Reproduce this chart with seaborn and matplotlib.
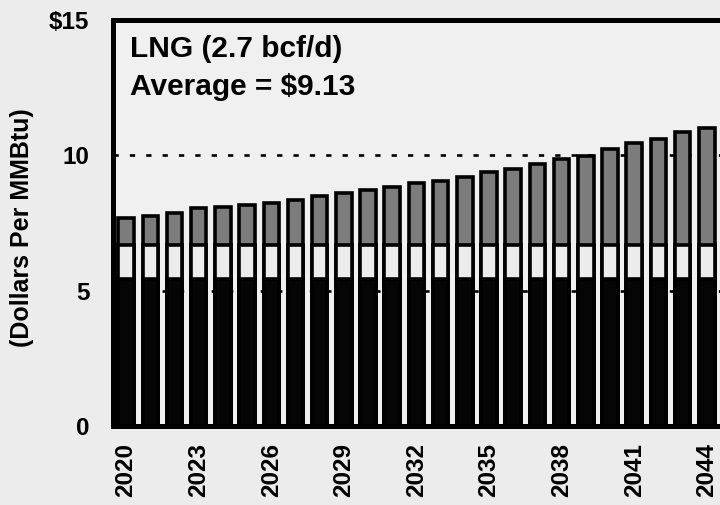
import matplotlib
matplotlib.use("Agg")
import matplotlib.pyplot as plt
import seaborn as sns
import pandas as pd

# Annual LNG cost build-up, dollars per MMBtu
years = [str(y) for y in range(2020, 2045)]
commodity = [5.42] * 25                      # black base segment
processing = [1.25] * 25                     # light middle segment
total_cost = [7.68, 7.75, 7.86, 8.04, 8.08, 8.15, 8.23, 8.34, 8.49, 8.60,
              8.71, 8.82, 8.97, 9.04, 9.19, 9.38, 9.49, 9.68, 9.86, 9.98,
              10.24, 10.46, 10.61, 10.87, 11.02]
tick_years = ["2020", "2023", "2026", "2029", "2032", "2035", "2038", "2041", "2044"]
y_ticks = [0, 5, 10, 15]
y_tick_labels = ["0", "5", "10", "$15"]
title_lines = ["LNG (2.7 bcf/d)", "Average = $9.13"]
y_label = "(Dollars Per MMBtu)"

df = pd.DataFrame({
    "year": years,
    "base": commodity,
    "mid_top": [c + p for c, p in zip(commodity, processing)],
    "total": total_cost,
})

sns.set_style("white")
plt.rcParams["font.family"] = ["Liberation Sans", "DejaVu Sans"]
plt.rcParams["font.weight"] = "bold"
plt.rcParams["text.color"] = "black"
plt.rcParams["xtick.color"] = "black"
plt.rcParams["ytick.color"] = "black"

bg = "#ececec"
fig = plt.figure(figsize=(7.2, 5.05), dpi=100, facecolor=bg)
ax = fig.add_axes([113 / 720, 79 / 505, 610 / 720, 406 / 505])
ax.set_facecolor("#f0f0f0")

bar_kw = dict(x="year", width=0.64, saturation=1, errorbar=None,
              edgecolor="black", linewidth=2.6, ax=ax)
sns.barplot(data=df, y="total", color="#7c7c7c", **bar_kw)
sns.barplot(data=df, y="mid_top", color="#ececec", **bar_kw)
sns.barplot(data=df, y="base", color="#050505", **bar_kw)

for level in (5, 10):
    ax.axhline(level, color="black", lw=1.9, ls=(0, (2.0, 4.2)), zorder=0.5)

ax.set_xlim(-0.54, 24.67)
ax.set_ylim(0, 15)
ax.set_xticks([years.index(t) for t in tick_years])
ax.set_xticklabels(tick_years, rotation=90, fontsize=17.5, fontweight="bold",
                   va="top", ha="center", color="black")
ax.set_yticks(y_ticks)
ax.set_yticklabels(y_tick_labels, fontsize=17.5, fontweight="bold", color="black")
ax.tick_params(axis="both", length=0)
ax.tick_params(axis="y", pad=17)
ax.tick_params(axis="x", pad=12)
ax.set_xlabel("")
ax.set_ylabel("")

for side in ("left", "top", "bottom"):
    ax.spines[side].set_visible(True)
    ax.spines[side].set_color("black")
    ax.spines[side].set_linewidth(3.6)
ax.spines["right"].set_visible(False)

ax.text(0.028, 0.909, title_lines[0], transform=ax.transAxes, fontsize=21.5,
        fontweight="bold", va="baseline", ha="left", color="black")
ax.text(0.028, 0.815, title_lines[1], transform=ax.transAxes, fontsize=21.5,
        fontweight="bold", va="baseline", ha="left", color="black")

fig.text(0.030, 0.55, y_label, rotation=90, fontsize=18, fontweight="bold",
         va="center", ha="center", color="black")

fig.savefig("out.png", dpi=100, facecolor=bg)
